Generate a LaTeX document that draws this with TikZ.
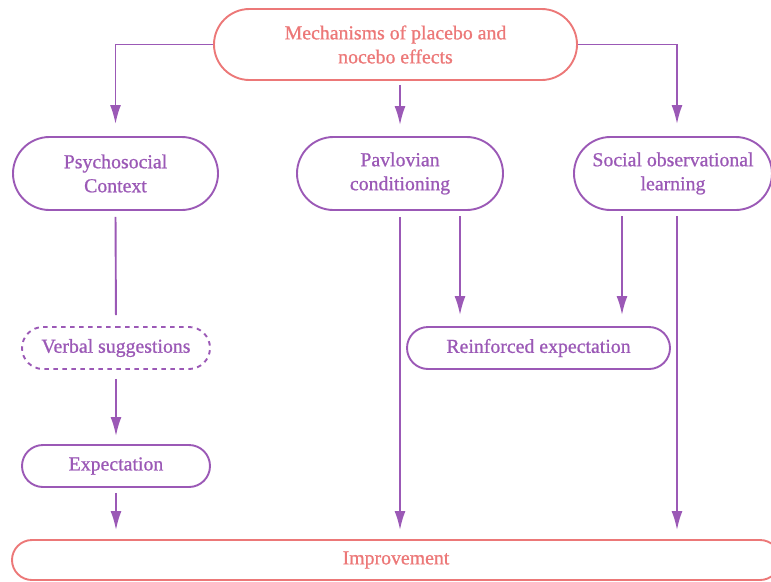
\documentclass[tikz,border=0pt]{standalone}
\usepackage{fontspec}
\setmainfont{Liberation Serif}[BoldFont=Liberation Serif, BoldFeatures={FakeBold=0.9}]
\usetikzlibrary{shapes.misc,arrows.meta}
\definecolor{plum}{RGB}{155,89,182}
\definecolor{coral}{RGB}{236,120,120}
\tikzset{
  pill/.style={rounded rectangle, draw=plum, line width=1.9pt, text=plum,
    font=\fontsize{19.8}{24}\selectfont\bfseries, align=center, inner sep=0pt},
  keypill/.style={pill, draw=coral, text=coral},
  dashpill/.style={pill, dash pattern=on 4.5pt off 4.5pt},
  link/.style={draw=plum, line width=1.9pt},
  flow/.style={link, -{Latex[length=19pt,width=11pt]}},
}
\begin{document}
\begin{tikzpicture}[x=1pt,y=-1pt]
\useasboundingbox (0,0) rectangle (771,581);

% nodes
\node[keypill, minimum width=363pt, minimum height=71pt] (top) at (395.5,44.5)
  {Mechanisms of placebo and\\nocebo effects};
\node[pill, minimum width=205pt, minimum height=73pt] (psy) at (115.5,173.5)
  {Psychosocial\\Context};
\node[pill, minimum width=206pt, minimum height=73pt] (pav) at (400,173.5)
  {Pavlovian\\conditioning};
\node[pill, minimum width=198pt, minimum height=73pt] (soc) at (673,173.5)
  {Social observational\\learning};
\node[dashpill, minimum width=188pt, minimum height=42pt] (verb) at (116,348)
  {Verbal suggestions};
\node[pill, minimum width=188pt, minimum height=42pt] (exp) at (116,466)
  {Expectation};
\node[pill, minimum width=263pt, minimum height=42pt] (reinf) at (538.5,348)
  {Reinforced expectation};
\node[keypill, minimum width=768pt, minimum height=40pt] (imp) at (396,560)
  {Improvement};

% helper points on the lower nodes
\coordinate (pavR) at (460,210);
\coordinate (socL) at (622,210);
\coordinate (socR) at (677,210);

% from the title to the three mechanisms
\draw[flow, shorten >=12pt] (top.west) -| (psy.north);
\draw[flow, shorten >=11pt, shorten <=4pt] (top.south -| pav.north) -- (pav.north);
\draw[flow, shorten >=12pt] (top.east) -| (socR |- soc.north);

% psychosocial branch
\draw[link, shorten <=6pt, shorten >=11pt] (psy.south) -- (verb.north);
\draw[flow, shorten <=9pt, shorten >=8pt] (verb.south) -- (exp.north);
\draw[flow, shorten <=5pt, shorten >=9pt] (exp.south) -- (exp.south |- imp.north);

% Pavlovian branch
\draw[flow, shorten <=6pt, shorten >=9pt] (pav.south) -- (pav.south |- imp.north);
\draw[flow, shorten <=6pt, shorten >=11pt] (pavR) -- (pavR |- reinf.north);

% observational branch
\draw[flow, shorten <=6pt, shorten >=11pt] (socL) -- (socL |- reinf.north);
\draw[flow, shorten <=6pt, shorten >=9pt] (socR) -- (socR |- imp.north);
\end{tikzpicture}
\end{document}
